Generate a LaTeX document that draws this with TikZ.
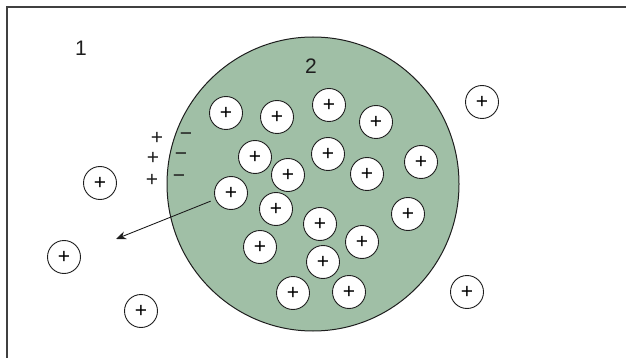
\documentclass[tikz,border=0pt]{standalone}
\usepackage{fontspec}
\setmainfont{Liberation Sans}
\usetikzlibrary{shapes.geometric,arrows.meta}
\definecolor{sage}{RGB}{160,191,166}
\definecolor{ink}{RGB}{30,30,30}
\tikzset{
  ion/.style={circle, draw=ink, line width=0.9pt, fill=white, minimum size=33pt, inner sep=0pt, font=\fontsize{21}{24}\selectfont},
  lbl/.style={inner sep=0pt, text=ink, font=\fontsize{21}{24}\selectfont},
  cell/.style={ellipse, draw=ink, line width=1pt, fill=sage, minimum width=292pt, minimum height=294pt, inner sep=0pt},
  frame/.style={draw=black!75, line width=1.3pt},
  arr/.style={draw=ink, line width=0.9pt, -{Stealth[length=10pt,width=8pt]}}
}
\begin{document}
\begin{tikzpicture}[x=1pt,y=-1pt]
\useasboundingbox (0,0) rectangle (626,358);
\draw[frame] (7,7) rectangle (660,400);
\node[cell] (cell) at (313,184) {};
\node[lbl] (n1) at (81,48) {1};
\node[lbl] (n2) at (311,66) {2};
% ions inside
\node[ion] (c1) at (226,113) {+};
\node[ion] (c2) at (277,117) {+};
\node[ion] (c3) at (329,105) {+};
\node[ion] (c4) at (376,122) {+};
\node[ion] (c5) at (255,157) {+};
\node[ion] (c6) at (328,154) {+};
\node[ion] (c7) at (288,175) {+};
\node[ion] (c8) at (367,174) {+};
\node[ion] (c9) at (421,162) {+};
\node[ion] (c10) at (231,193) {+};
\node[ion] (c11) at (276,209) {+};
\node[ion] (c12) at (320,224) {+};
\node[ion] (c13) at (408,214) {+};
\node[ion] (c14) at (260,247) {+};
\node[ion] (c15) at (362,242) {+};
\node[ion] (c16) at (323,262) {+};
\node[ion] (c17) at (293,293) {+};
\node[ion] (c18) at (349,292) {+};
% ions outside
\node[ion] (o1) at (482,102) {+};
\node[ion] (o2) at (100,183) {+};
\node[ion] (o3) at (64,257) {+};
\node[ion] (o4) at (141,311) {+};
\node[ion] (o5) at (467,292) {+};
% surface charges
\node[lbl] (p1) at (157,138) {+};
\node[lbl] (m1) at (186,137) {−};
\node[lbl] (p2) at (153,158) {+};
\node[lbl] (m2) at (181,157) {−};
\node[lbl] (p3) at (152,180) {+};
\node[lbl] (m3) at (179,179) {−};
% arrow
\coordinate (tip) at (116,239);
\draw[arr, shorten <=5pt] (c10) -- (tip);
\end{tikzpicture}
\end{document}
